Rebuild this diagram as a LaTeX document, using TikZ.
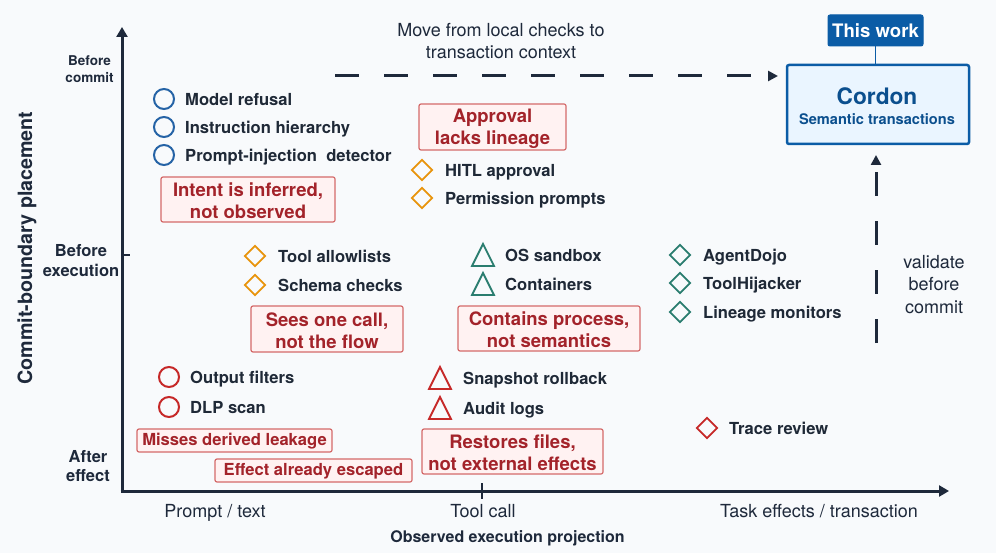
\documentclass[tikz,border=0pt]{standalone}
\usepackage{fontspec}
\setmainfont{TeX Gyre Heros}
\usetikzlibrary{arrows.meta,shapes.geometric}
\definecolor{bgc}{HTML}{F8FAFC}
\definecolor{axisc}{HTML}{1E293B}
\definecolor{lblc}{HTML}{1F2937}
\definecolor{bluec}{HTML}{2563A6}
\definecolor{redc}{HTML}{C62828}
\definecolor{orangec}{HTML}{E8940C}
\definecolor{tealc}{HTML}{2A7D6F}
\definecolor{rbdraw}{HTML}{D46A6A}
\definecolor{rbfill}{HTML}{FFF2F2}
\definecolor{rbtext}{HTML}{A3232A}
\definecolor{cordc}{HTML}{0B5CA6}
\definecolor{cordfill}{HTML}{EAF5FF}
\definecolor{cordtext}{HTML}{0B4F8E}
\begin{document}
\begin{tikzpicture}[x=1pt,y=-1pt,
  lbl/.style={anchor=base west, inner sep=0pt, text=lblc, font=\fontsize{16.6}{19}\selectfont\bfseries},
  mcirc/.style={circle, draw=#1, line width=2pt, minimum size=20pt, inner sep=0pt},
  mdiam/.style={diamond, draw=#1, line width=1.8pt, minimum size=21pt, inner sep=0pt},
  redbox/.style={draw=rbdraw, fill=rbfill, line width=1.2pt, rounded corners=2pt, inner sep=0pt},
  redtxt/.style={text=rbtext, font=\fontsize{18.5}{22}\selectfont\bfseries, align=center, inner sep=0pt},
  smallredtxt/.style={redtxt, font=\fontsize{16.6}{19}\selectfont\bfseries},
  axislbl/.style={anchor=base, inner sep=0pt, text=axisc, font=\fontsize{18}{21}\selectfont},
  ylbl/.style={align=center, inner sep=0pt, text=axisc, font=\fontsize{16.5}{19.5}\selectfont\bfseries},
  axisline/.style={draw=axisc, line width=3pt, -{Triangle[length=10pt,width=11pt]}},
  dasharrow/.style={draw=axisc, line width=3pt, dash pattern=on 24pt off 25pt, -{Triangle[length=10pt,width=10pt]}},
  tri/.pic={\draw[line width=1.8pt, line join=miter] (0,-11) -- (11,11) -- (-11,11) -- cycle;}
]
\fill[bgc] (0,0) rectangle (996,553);
\useasboundingbox (0,0) rectangle (996,553);

% axes
\coordinate (O) at (122,491);
\coordinate (ytop) at (122,27);
\coordinate (xend) at (949,491);
\draw[axisline] (O) -- (ytop);
\draw[axisline] ([xshift=-1.5pt]O) -- (xend);
\coordinate (yt1) at (122,255);
\coordinate (yt2) at (130,255);
\draw[axisc, line width=2pt] (yt1) -- (yt2);
\coordinate (xt1) at (482,483);
\coordinate (xt2) at (482,499);
\draw[axisc, line width=2pt] (xt1) -- (xt2);

% axis labels
\node[ylbl, font=\fontsize{13.5}{17}\selectfont\bfseries] (ybc) at (89.5,69) {Before\\commit};
\node[ylbl] (ybe) at (81,260.5) {Before\\execution};
\node[ylbl] (yae) at (88,466) {After\\effect};
\node[rotate=90, inner sep=0pt, text=axisc, font=\fontsize{19.7}{22}\selectfont\bfseries] (ytitle) at (27,248) {Commit-boundary placement};
\node[axislbl] (xp) at (215,517) {Prompt / text};
\node[axislbl] (xt) at (483,517) {Tool call};
\node[axislbl] (xe) at (819,517) {Task effects / transaction};
\node[anchor=base, inner sep=0pt, text=axisc, font=\fontsize{16}{18}\selectfont\bfseries] (xtitle) at (507.5,542) {Observed execution projection};

% top caption
\node[axislbl] (mv1) at (501,36.5) {Move from local checks to};
\node[axislbl] (mv2) at (501,58.5) {transaction context};

% Cordon
\node[draw=cordc, fill=cordc, line width=1pt, rounded corners=2pt, minimum width=95pt, minimum height=31pt, inner sep=0pt,
      text=white, font=\fontsize{18.6}{22}\selectfont\bfseries] (tw) at (875.5,30.5) {This work};
\node[draw=cordc, fill=cordfill, line width=2.5pt, rounded corners=2pt, minimum width=182pt, minimum height=79pt, inner sep=0pt] (cord) at (878,104.5) {};
\node[anchor=base, inner sep=0pt, text=cordtext, font=\fontsize{22.7}{26}\selectfont\bfseries] (cordt) at (877,104.5) {Cordon};
\node[anchor=base, inner sep=0pt, text=cordtext, font=\fontsize{14.6}{17}\selectfont\bfseries] (cords) at (877,125) {Semantic transactions};
\draw[cordc, line width=1.5pt] (tw.south) -- (cord.north -| tw.south);

% dashed arrows
\coordinate (hstart) at (335,76);
\coordinate (hend) at (778,76);
\draw[dasharrow] (hstart) -- (hend);
\coordinate (vstart) at (876,343);
\coordinate (vend) at (876,155);
\draw[dasharrow] (vstart) -- (vend);
\node[axislbl] (va1) at (934,268.5) {validate};
\node[axislbl] (va2) at (934,291) {before};
\node[axislbl] (va3) at (934,313) {commit};

% blue circles
\node[mcirc=bluec] (c1) at (164,99) {};
\node[lbl] (l1) at (185,105.5) {Model refusal};
\node[mcirc=bluec] (c2) at (164,127) {};
\node[lbl] (l2) at (185,133.5) {Instruction hierarchy};
\node[mcirc=bluec] (c3) at (164,155) {};
\node[lbl] (l3) at (185,161.5) {Prompt-injection\ \ detector};

% orange diamonds (top)
\node[mdiam=orangec] (d1) at (422,170) {};
\node[lbl] (l4) at (445,176.5) {HITL approval};
\node[mdiam=orangec] (d2) at (422,198) {};
\node[lbl] (l5) at (445,204.5) {Permission prompts};

% orange diamonds (mid)
\node[mdiam=orangec] (d3) at (255,256) {};
\node[lbl] (l6) at (278,262.5) {Tool allowlists};
\node[mdiam=orangec] (d4) at (255,285) {};
\node[lbl] (l7) at (278,291.5) {Schema checks};

% teal triangles
\pic[color=tealc] at (483,255) {tri};
\node[lbl] (l8) at (505,261.5) {OS sandbox};
\pic[color=tealc] at (483,284) {tri};
\node[lbl] (l9) at (505,290.5) {Containers};

% teal diamonds
\node[mdiam=tealc] (d5) at (680,255) {};
\node[lbl] (l10) at (703,261.5) {AgentDojo};
\node[mdiam=tealc] (d6) at (680,283) {};
\node[lbl] (l11) at (703,289.5) {ToolHijacker};
\node[mdiam=tealc] (d7) at (680,312) {};
\node[lbl] (l12) at (703,318.5) {Lineage monitors};

% red circles
\node[mcirc=redc] (c4) at (169,377) {};
\node[lbl] (l13) at (190,383.5) {Output filters};
\node[mcirc=redc] (c5) at (169,407) {};
\node[lbl] (l14) at (190,413.5) {DLP scan};

% red triangles
\pic[color=redc] at (440,378) {tri};
\node[lbl] (l15) at (463,384.5) {Snapshot rollback};
\pic[color=redc] at (440,408) {tri};
\node[lbl] (l16) at (463,414.5) {Audit logs};

% red diamond
\node[mdiam=redc] (d8) at (707,428) {};
\node[lbl] (l17) at (729,434.5) {Trace review};

% red boxes
\node[redbox, minimum width=174pt, minimum height=45pt] (b1) at (248,199.5) {};
\node[redtxt] (b1t) at ([yshift=-1.5pt]b1.center) {Intent is inferred,\\not observed};
\node[redbox, minimum width=147pt, minimum height=46pt] (b2) at (492.5,127) {};
\node[redtxt] (b2t) at ([yshift=-1.5pt]b2.center) {Approval\\lacks lineage};
\node[redbox, minimum width=152pt, minimum height=46pt] (b3) at (327,329) {};
\node[redtxt] (b3t) at ([yshift=-1.5pt]b3.center) {Sees one call,\\not the flow};
\node[redbox, minimum width=182pt, minimum height=45pt] (b4) at (549,328.5) {};
\node[redtxt] (b4t) at ([yshift=-1.5pt]b4.center) {Contains process,\\not semantics};
\node[redbox, minimum width=195pt, minimum height=23pt] (b5) at (234.5,440.5) {};
\node[smallredtxt] (b5t) at ([yshift=-1pt]b5.center) {Misses derived leakage};
\node[redbox, minimum width=197pt, minimum height=23pt] (b6) at (313.5,470.5) {};
\node[smallredtxt] (b6t) at ([yshift=-1pt]b6.center) {Effect already escaped};
\node[redbox, minimum width=181pt, minimum height=45pt] (b7) at (512.5,451.5) {};
\node[redtxt] (b7t) at ([yshift=-1.5pt]b7.center) {Restores files,\\not external effects};
\end{tikzpicture}
\end{document}
